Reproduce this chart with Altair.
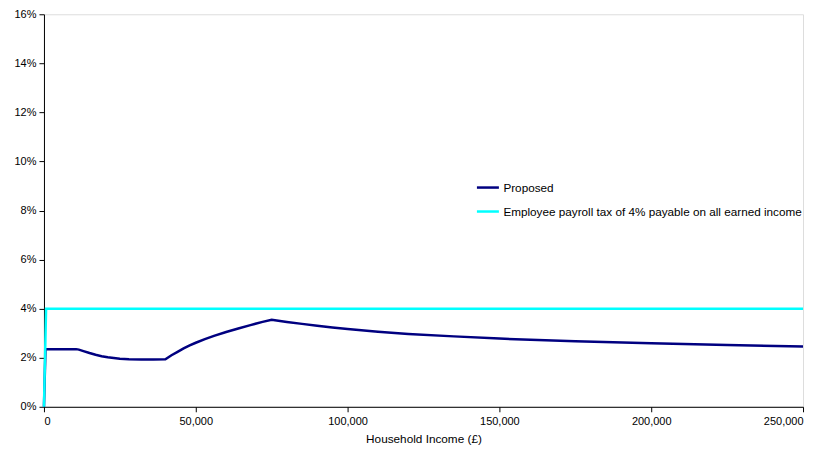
import altair as alt
import pandas as pd

proposed_x = [0, 500, 10600, 11500, 13000, 15000, 17000, 19000, 21000, 23000, 25000,
              28000, 32000, 36000, 40000, 42000, 44000, 46000, 48000, 50000, 53000,
              56000, 60000, 64000, 68000, 72000, 75000, 80000, 85000, 90000, 95000,
              100000, 110000, 120000, 135000, 150000, 175000, 200000, 225000, 250000]
proposed_y = [0.0, 2.35, 2.35, 2.33, 2.27, 2.19, 2.12, 2.06, 2.02, 1.99, 1.96,
              1.94, 1.93, 1.93, 1.94, 2.10, 2.24, 2.38, 2.50, 2.61, 2.76,
              2.89, 3.05, 3.19, 3.33, 3.46, 3.55, 3.46, 3.38, 3.30, 3.23,
              3.17, 3.06, 2.97, 2.87, 2.78, 2.67, 2.59, 2.52, 2.46]
payroll_x = [0, 700, 250000]
payroll_y = [0.0, 4.0, 4.0]

s1 = "Proposed"
s2 = "Employee payroll tax of 4% payable on all earned income"

rows = []
for i, (x, y) in enumerate(zip(proposed_x, proposed_y)):
    rows.append({"income": x, "rate": y / 100, "series": s1, "o": i})
for i, (x, y) in enumerate(zip(payroll_x, payroll_y)):
    rows.append({"income": x, "rate": y / 100, "series": s2, "o": i})
df = pd.DataFrame(rows)

FONT = "Liberation Sans"

chart = alt.Chart(df).mark_line(strokeWidth=2.5).encode(
    x=alt.X("income:Q",
            scale=alt.Scale(domain=[0, 250000], nice=False, zero=True),
            axis=alt.Axis(values=[0, 50000, 100000, 150000, 200000, 250000],
                          format=",.0f", title="Household Income (£)", grid=False,
                          domainColor="black", tickColor="black", tickSize=5,
                          labelColor="black", labelFont=FONT, labelFontSize=11,
                          titleFont=FONT, titleFontSize=11.8, titleFontWeight="normal",
                          titleColor="black", labelPadding=4, titlePadding=7)),
    y=alt.Y("rate:Q",
            scale=alt.Scale(domain=[0, 0.16], nice=False),
            axis=alt.Axis(values=[0, 0.02, 0.04, 0.06, 0.08, 0.10, 0.12, 0.14, 0.16],
                          format=".0%", title=None, grid=False,
                          domainColor="black", tickColor="black", tickSize=5,
                          labelColor="black", labelFont=FONT, labelFontSize=11,
                          labelPadding=3)),
    color=alt.Color("series:N",
                    scale=alt.Scale(domain=[s1, s2], range=["#000080", "#00FFFF"]),
                    sort=[s1, s2],
                    legend=alt.Legend(title=None, orient="none", legendX=432, legendY=161,
                                      symbolType="stroke", symbolSize=484,
                                      symbolStrokeWidth=2.5, labelFont=FONT,
                                      labelFontSize=11.75, labelColor="black",
                                      labelOffset=3, rowPadding=4, padding=0,
                                      labelLimit=400)),
    detail="series:N",
    order="o:Q",
).properties(
    width=760, height=393,
    autosize=alt.AutoSizeParams(type="none"),
    padding={"left": 36, "top": 6, "right": 16, "bottom": 46},
).configure_view(stroke=None).configure(background="white")

chart.save("out.html", embed_options={"renderer": "svg", "actions": False})
